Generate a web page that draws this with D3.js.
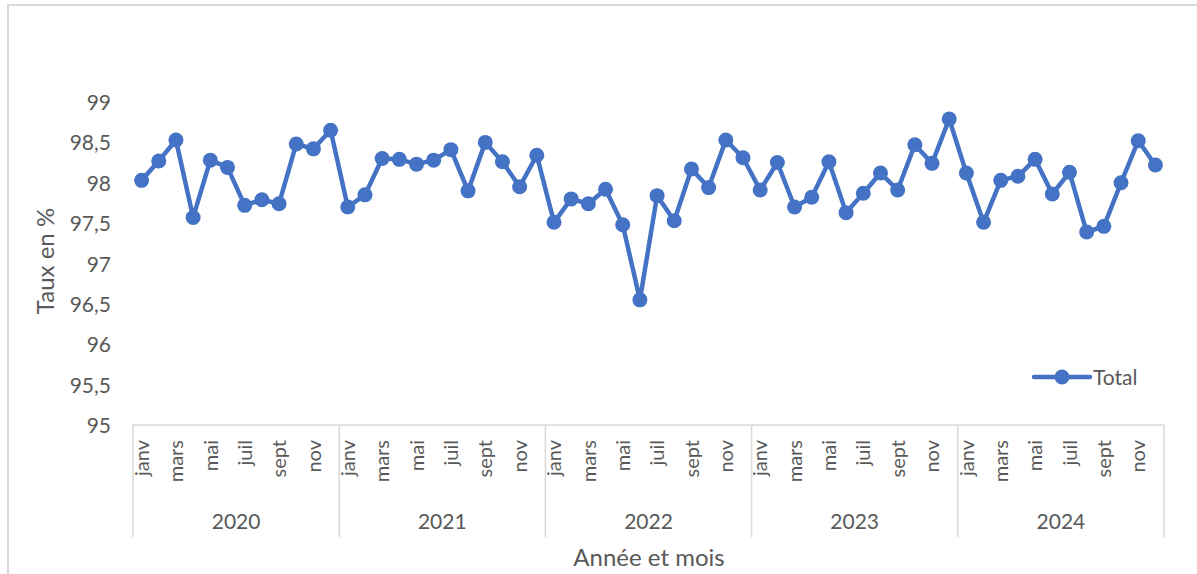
<!DOCTYPE html>
<html><head><meta charset="utf-8">
<script src="https://cdn.jsdelivr.net/npm/d3@7"></script>
<style>body{margin:0;background:#fff}svg{display:block}text{font-family:Lato,"Open Sans",sans-serif;fill:#595959}</style>
</head><body>
<svg id="c" width="1197" height="574"></svg>
<script>
const years = ["2020","2021","2022","2023","2024"];
const months = ["janv","févr","mars","avr","mai","juin","juil","août","sept","oct","nov","déc"];
const shownMonths = ["janv","mars","mai","juil","sept","nov"];
const values2020 = [98.03,98.27,98.53,97.57,98.28,98.19,97.72,97.79,97.74,98.48,98.42,98.65];
const values2021 = [97.70,97.85,98.30,98.29,98.23,98.28,98.41,97.90,98.50,98.26,97.95,98.34];
const values2022 = [97.51,97.80,97.74,97.92,97.48,96.55,97.84,97.53,98.17,97.94,98.53,98.31];
const values2023 = [97.91,98.25,97.70,97.82,98.26,97.63,97.87,98.12,97.91,98.47,98.24,98.79];
const values2024 = [98.12,97.51,98.03,98.08,98.29,97.86,98.13,97.39,97.46,98.00,98.52,98.22];
const yTicks = [95,95.5,96,96.5,97,97.5,98,98.5,99];
const seriesName = "Total";

const allValues = [values2020,values2021,values2022,values2023,values2024];
const data = [];
years.forEach((yv,yi)=>months.forEach((m,mi)=>data.push({key:yv+"-"+mi,year:yv,month:m,value:allValues[yi][mi]})));

const svg = d3.select("#c");
const color = "#4472C4";
const pLeft = 133, pRight = 1164, pTop = 102, pBottom = 425, catBottom = 537;
const font = "Lato,'Open Sans',sans-serif";

// chart border
svg.append("rect").attr("x",8).attr("y",5).attr("width",1200).attr("height",600)
  .attr("fill","none").attr("stroke","#d9d9d9").attr("stroke-width",2);

const x = d3.scaleBand().domain(data.map(d=>d.key)).range([pLeft,pRight]);
const xYear = d3.scaleBand().domain(years).range([pLeft,pRight]);
const y = d3.scaleLinear().domain([95,99]).range([pBottom,pTop]);

// y axis labels
const yAxis = d3.axisLeft(y).tickValues(yTicks).tickSize(0).tickPadding(0)
  .tickFormat(d=>String(d).replace(".",","));
const gy = svg.append("g").attr("transform","translate(111,0)").call(yAxis);
gy.select(".domain").remove();
gy.selectAll("text").style("font-size","21px").style("font-family",font).attr("fill","#595959").attr("dy","0.36em");

// x axis line and separators
const gx = svg.append("g");
gx.append("line").attr("x1",pLeft).attr("x2",pRight).attr("y1",pBottom).attr("y2",pBottom)
  .attr("stroke","#d9d9d9").attr("stroke-width",1.5);
const seps = years.map(yv=>xYear(yv)).concat([pRight]);
gx.selectAll("line.sep").data(seps).join("line").attr("class","sep")
  .attr("x1",d=>d).attr("x2",d=>d).attr("y1",pBottom).attr("y2",catBottom)
  .attr("stroke","#d9d9d9").attr("stroke-width",1.5);

// month labels
gx.selectAll("text.m").data(data.filter(d=>shownMonths.includes(d.month))).join("text").attr("class","m")
  .attr("transform",d=>`translate(${x(d.key)+x.bandwidth()/2},${pBottom+15}) rotate(-90)`)
  .attr("dy","0.36em")
  .attr("text-anchor","end").style("font-size","20px").text(d=>d.month);

// year labels
gx.selectAll("text.y").data(years).join("text").attr("class","y")
  .attr("x",d=>xYear(d)+xYear.bandwidth()/2).attr("y",529)
  .attr("text-anchor","middle").style("font-size","21px").text(d=>d);

// axis titles
svg.append("text").attr("transform","translate(54,261) rotate(-90)").attr("text-anchor","middle")
  .style("font-size","24px").text("Taux en %");
svg.append("text").attr("x",649).attr("y",566).attr("text-anchor","middle")
  .style("font-size","24px").text("Année et mois");

// line
const line = d3.line().x(d=>x(d.key)+x.bandwidth()/2).y(d=>y(d.value));
svg.append("path").datum(data).attr("d",line).attr("fill","none")
  .attr("stroke",color).attr("stroke-width",4.5).attr("stroke-linejoin","round");
svg.selectAll("circle.p").data(data).join("circle").attr("class","p")
  .attr("cx",d=>x(d.key)+x.bandwidth()/2).attr("cy",d=>y(d.value)).attr("r",7.5).attr("fill",color);

// legend
const lg = svg.append("g").attr("transform","translate(1034,377)");
lg.append("line").attr("x1",0).attr("x2",56).attr("stroke",color).attr("stroke-width",4.5).attr("stroke-linecap","round");
lg.append("circle").attr("cx",28).attr("r",7.5).attr("fill",color);
lg.append("text").attr("x",59).attr("dy","0.36em").style("font-size","21px").text(seriesName);
</script>
</body></html>
